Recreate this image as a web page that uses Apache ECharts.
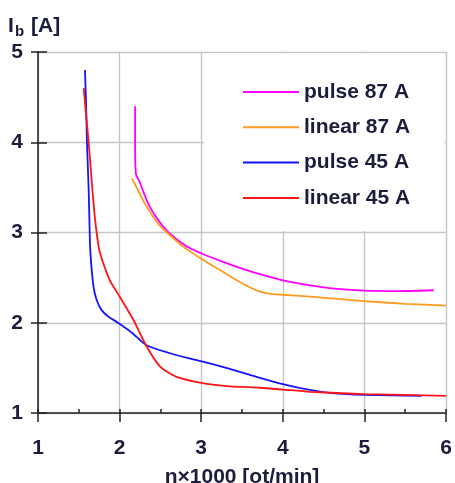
<!DOCTYPE html>
<html>
<head>
<meta charset="utf-8">
<script src="https://cdn.jsdelivr.net/npm/echarts@6/dist/echarts.min.js"></script>
<style>
  html, body { margin: 0; padding: 0; background: #fff; }
  #chart { width: 455px; height: 483px; }
</style>
</head>
<body>
<div id="chart"></div>
<script>
// Battery current I_b versus engine speed n (x1000 rpm)
var seriesNames = ['pulse 87 A', 'linear 87 A', 'pulse 45 A', 'linear 45 A'];
var seriesColors = ['#ff00ff', '#ff9a1f', '#1414ff', '#ff1414'];

var pulse87 = [
  [2.19, 4.40], [2.19, 4.00], [2.20, 3.65], [2.25, 3.55], [2.35, 3.32], [2.47, 3.14],
  [2.60, 3.00], [2.80, 2.86], [3.00, 2.77], [3.25, 2.68], [3.50, 2.60], [3.75, 2.53],
  [4.00, 2.47], [4.30, 2.42], [4.60, 2.38], [5.00, 2.355], [5.40, 2.35], [5.85, 2.36]
];
var linear87 = [
  [2.15, 3.60], [2.23, 3.46], [2.31, 3.32], [2.47, 3.10], [2.58, 3.00], [2.80, 2.83],
  [3.00, 2.71], [3.20, 2.60], [3.40, 2.49], [3.60, 2.39], [3.72, 2.345], [3.85, 2.32],
  [4.00, 2.31], [4.33, 2.29], [5.00, 2.24], [5.50, 2.21], [6.00, 2.19]
];
var pulse45 = [
  [1.576, 4.80], [1.59, 4.40], [1.60, 4.00], [1.62, 3.50], [1.63, 3.14], [1.64, 2.81],
  [1.68, 2.40], [1.72, 2.25], [1.78, 2.14], [1.86, 2.07], [1.98, 2.00], [2.15, 1.89],
  [2.33, 1.75], [2.70, 1.64], [3.02, 1.57], [3.35, 1.49], [3.70, 1.395], [4.00, 1.32],
  [4.33, 1.255], [4.60, 1.22], [5.00, 1.20], [5.70, 1.19]
];
var linear45 = [
  [1.56, 4.60], [1.60, 4.20], [1.63, 3.90], [1.66, 3.55], [1.70, 3.14], [1.75, 2.81],
  [1.80, 2.66], [1.88, 2.47], [2.00, 2.29], [2.17, 2.03], [2.33, 1.74], [2.50, 1.51],
  [2.70, 1.40], [3.02, 1.33], [3.35, 1.295], [3.72, 1.28], [4.00, 1.26], [4.33, 1.235],
  [5.00, 1.21], [6.00, 1.19]
];

var xTicks = [1, 2, 3, 4, 5, 6];
var yTicks = [1, 2, 3, 4, 5];

var seriesData = [pulse87, linear87, pulse45, linear45];
var textColor = '#1c1c3c';
var fontFamily = '"Liberation Sans", Arial, sans-serif';
var fontSize = 21;

var chart = echarts.init(document.getElementById('chart'), null, { renderer: 'canvas' });

var axisLineStyle = { color: '#222', width: 1.5 };
var gridLineStyle = { color: '#c6c6c6', width: 1.4 };
var labelStyle = { fontSize: fontSize, fontWeight: 'bold', color: textColor, fontFamily: fontFamily };

var option = {
  animation: false,
  backgroundColor: '#fff',
  grid: { left: 38, right: 9, top: 52, bottom: 70, containLabel: false, outerBoundsMode: 'none' },
  xAxis: [
    {
      type: 'value', min: xTicks[0], max: xTicks[xTicks.length - 1], interval: 1,
      position: 'bottom',
      name: 'n×1000 [ot/min]', nameLocation: 'middle', nameGap: 54,
      nameTextStyle: labelStyle,
      axisLine: { show: true, lineStyle: axisLineStyle },
      axisTick: { show: true, inside: false, length: 9, lineStyle: axisLineStyle },
      axisLabel: Object.assign({ margin: 25 }, labelStyle),
      splitLine: { show: true, lineStyle: gridLineStyle }
    },
    {
      type: 'value', min: xTicks[0], max: xTicks[xTicks.length - 1], interval: 1,
      position: 'bottom',
      axisLine: { show: false },
      axisTick: { show: true, inside: true, length: 4, lineStyle: axisLineStyle },
      minorTick: { show: true, splitNumber: 2, length: 4, lineStyle: axisLineStyle },
      axisLabel: { show: false },
      splitLine: { show: false }
    }
  ],
  yAxis: [
    {
      type: 'value', min: yTicks[0], max: yTicks[yTicks.length - 1], interval: 1,
      position: 'left',
      axisLine: { show: true, lineStyle: axisLineStyle },
      axisTick: { show: true, inside: false, length: 7, lineStyle: axisLineStyle },
      axisLabel: Object.assign({ margin: 15 }, labelStyle),
      splitLine: { show: true, lineStyle: gridLineStyle }
    },
    {
      type: 'value', min: yTicks[0], max: yTicks[yTicks.length - 1], interval: 1,
      position: 'left',
      axisLine: { show: false },
      axisTick: { show: true, inside: true, length: 9, lineStyle: axisLineStyle },
      axisLabel: { show: false },
      splitLine: { show: false }
    }
  ],
  legend: {
    orient: 'vertical',
    left: 243, top: 81.5,
    padding: 0,
    itemWidth: 56, itemHeight: 2, itemGap: 14.3,
    icon: 'rect',
    textStyle: Object.assign({ lineHeight: 21 }, labelStyle),
    data: seriesNames
  },
  graphic: [
    // white backing behind the legend, hiding the grid there
    { type: 'rect', z: 1, shape: { x: 204, y: 53.5, width: 240.5, height: 177.5 }, style: { fill: '#fff' } },
    // y axis title: I with subscript b
    { type: 'text', z: 5, left: 8, top: 16, style: { text: 'I', font: 'bold 21px ' + fontFamily, fill: textColor } },
    { type: 'text', z: 5, left: 15, top: 24, style: { text: 'b', font: 'bold 15px ' + fontFamily, fill: textColor } },
    { type: 'text', z: 5, left: 31, top: 16, style: { text: '[A]', font: 'bold 21px ' + fontFamily, fill: textColor } }
  ],
  series: seriesNames.map(function (name, i) {
    return {
      name: name,
      type: 'line',
      xAxisIndex: 0, yAxisIndex: 0,
      data: seriesData[i],
      smooth: 0.2,
      symbol: 'none',
      z: 3,
      color: seriesColors[i],
      lineStyle: { color: seriesColors[i], width: 1.8 }
    };
  })
};

chart.setOption(option);
</script>
</body>
</html>
